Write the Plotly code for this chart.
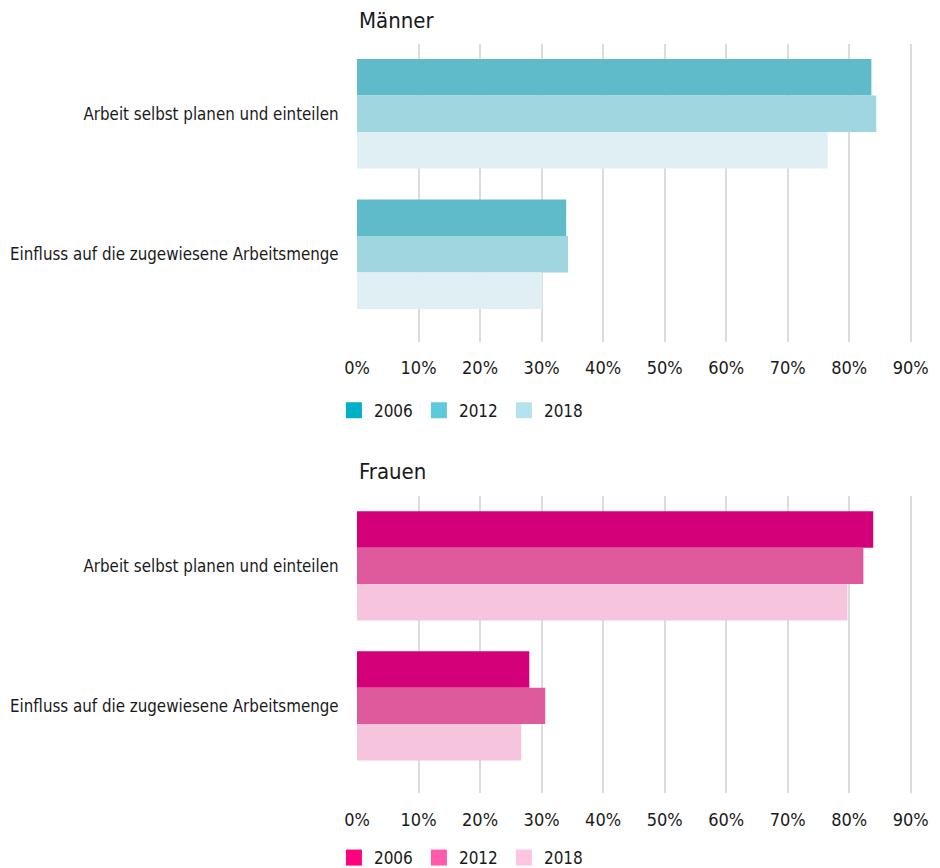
import plotly.graph_objects as go

categories = ["Arbeit selbst planen und einteilen", "Einfluss auf die zugewiesene Arbeitsmenge"]
years = ["2006", "2012", "2018"]

maenner_2006 = [83.6, 34.0]
maenner_2012 = [84.4, 34.3]
maenner_2018 = [76.5, 30.1]

frauen_2006 = [83.9, 28.0]
frauen_2012 = [82.3, 30.6]
frauen_2018 = [79.7, 26.7]

x_ticks = [0, 10, 20, 30, 40, 50, 60, 70, 80, 90]

bar_colors_m = ["#5fbbca", "#a0d6e0", "#dfeff3"]
legend_colors_m = ["#00b0c8", "#5ec8dc", "#b3e4ee"]
bar_colors_f = ["#d4007a", "#de5a9c", "#f6c4dd"]
legend_colors_f = ["#ff0080", "#ff5aab", "#ffc4e1"]

FONT = "DejaVu Sans Condensed, Liberation Sans Narrow, Roboto, sans-serif"
TXT = "#1a1a1a"
H = 868
OFF = 8  # page body margin

fig = go.Figure()

m_series = [maenner_2006, maenner_2012, maenner_2018]
f_series = [frauen_2006, frauen_2012, frauen_2018]

for i, yr in enumerate(years):
    fig.add_trace(go.Bar(y=categories, x=m_series[i], orientation="h", name=yr,
                         marker=dict(color=bar_colors_m[i], line=dict(width=0)),
                         xaxis="x", yaxis="y", showlegend=False))
for i, yr in enumerate(years):
    fig.add_trace(go.Bar(y=categories, x=f_series[i], orientation="h", name=yr,
                         marker=dict(color=bar_colors_f[i], line=dict(width=0)),
                         xaxis="x2", yaxis="y2", showlegend=False))

# legend entries
for i, yr in enumerate(years):
    fig.add_trace(go.Scatter(x=[None], y=[None], mode="markers", name=yr,
                             marker=dict(symbol="square", size=16, color=legend_colors_m[i]),
                             xaxis="x", yaxis="y", legend="legend", showlegend=True))
for i, yr in enumerate(years):
    fig.add_trace(go.Scatter(x=[None], y=[None], mode="markers", name=yr,
                             marker=dict(symbol="square", size=16, color=legend_colors_f[i]),
                             xaxis="x2", yaxis="y2", legend="legend2", showlegend=True))

xcommon = dict(range=[0, 90.2], tickvals=x_ticks, ticktext=[f"{v}%" for v in x_ticks],
               showgrid=True, gridcolor="#dcdcdc", gridwidth=2, zeroline=False,
               showline=False, ticks="outside", ticklen=10, tickcolor="rgba(0,0,0,0)",
               tickfont=dict(family=FONT, size=18, color=TXT), fixedrange=True,
               automargin=False)
ycommon = dict(type="category", range=[1.624, -0.497], showgrid=False, zeroline=False,
               showline=False, ticks="outside", ticklen=14, tickcolor="rgba(0,0,0,0)",
               tickfont=dict(family=FONT, size=16.8, color=TXT), fixedrange=True,
               automargin=False)


def py(p):
    return 1 - (p - OFF) / H


fig.update_layout(
    width=940, height=H,
    margin=dict(l=357 - OFF, r=940 - 912 + OFF, t=0, b=0),
    paper_bgcolor="white", plot_bgcolor="white",
    barmode="group", bargap=0.22, bargroupgap=0,
    font=dict(family=FONT, color=TXT),
    xaxis=dict(domain=[0, 1], anchor="y", **xcommon),
    yaxis=dict(domain=[py(343), py(44)], anchor="x", **ycommon),
    xaxis2=dict(domain=[0, 1], anchor="y2", **xcommon),
    yaxis2=dict(domain=[py(796), py(498)], anchor="x2", **ycommon),
    legend=dict(orientation="h", x=-0.0416, xanchor="left", y=py(412), yanchor="middle",
                font=dict(family=FONT, size=17, color=TXT), entrywidth=40, entrywidthmode="pixels",
                bgcolor="rgba(0,0,0,0)", itemclick=False, itemdoubleclick=False),
    legend2=dict(orientation="h", x=-0.0416, xanchor="left", y=py(861), yanchor="middle",
                 font=dict(family=FONT, size=17, color=TXT), entrywidth=40, entrywidthmode="pixels",
                 bgcolor="rgba(0,0,0,0)", itemclick=False, itemdoubleclick=False),
    annotations=[
        dict(text="Männer", xref="x domain", yref="y domain", x=0, y=1, xanchor="left",
             yanchor="bottom", yshift=9, showarrow=False,
             font=dict(family=FONT, size=22, color=TXT)),
        dict(text="Frauen", xref="x2 domain", yref="y2 domain", x=0, y=1, xanchor="left",
             yanchor="bottom", yshift=10, showarrow=False,
             font=dict(family=FONT, size=22, color=TXT)),
    ],
)

fig.write_html("out.html")
